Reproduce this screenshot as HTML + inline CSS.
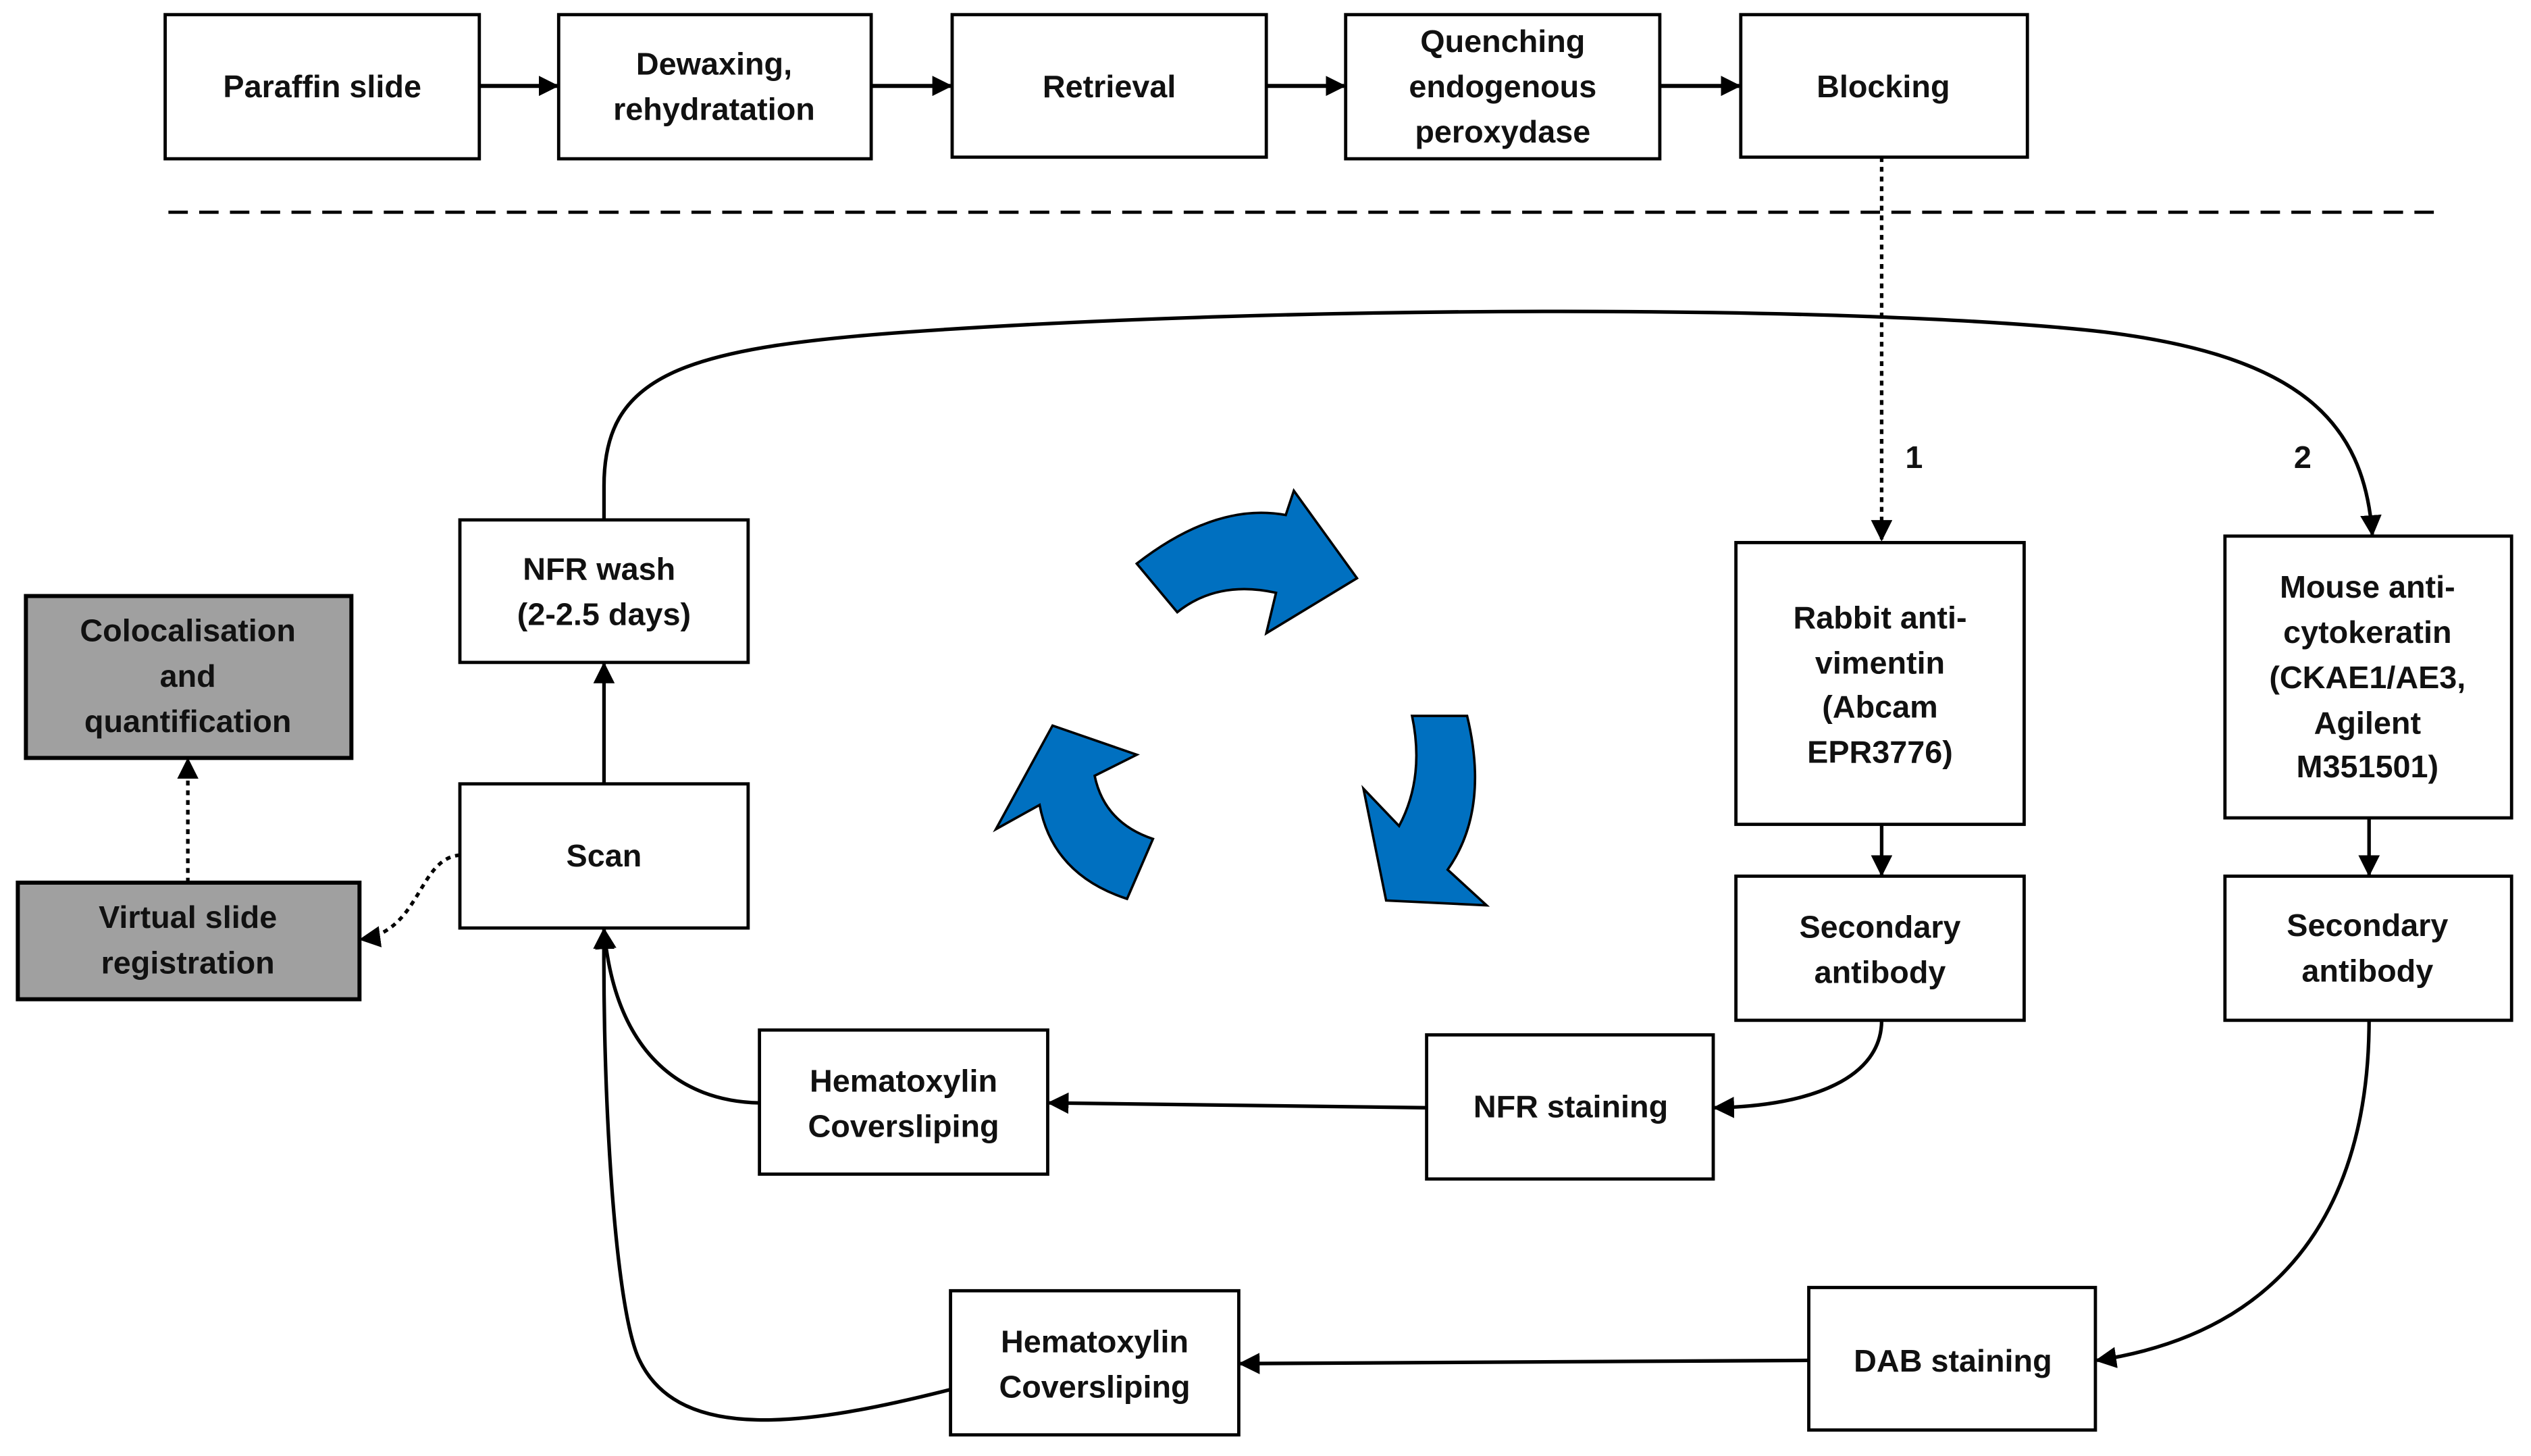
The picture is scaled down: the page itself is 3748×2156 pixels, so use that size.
<!DOCTYPE html>
<html><head><meta charset="utf-8"><style>
html,body{margin:0;padding:0;background:#fff;}
svg{display:block;}
text{font-family:"Liberation Sans",sans-serif;font-weight:bold;font-size:19.5px;fill:#111;text-anchor:middle;}
</style></head><body>
<svg width="3748" height="2156" viewBox="0 0 1563 899" xmlns="http://www.w3.org/2000/svg">
<defs>
<marker id="a" viewBox="0 0 10 10" refX="9" refY="5" markerWidth="5" markerHeight="5" orient="auto" markerUnits="strokeWidth"><path d="M0,0 L10,5 L0,10 z" fill="#000"/></marker>
<marker id="b" viewBox="0 0 10 10" refX="9" refY="5" markerWidth="6" markerHeight="6" orient="auto" markerUnits="strokeWidth"><path d="M0,0 L10,5 L0,10 z" fill="#000"/></marker>
</defs>
<g fill="#fff" stroke="#000" stroke-width="2">
<rect x="102" y="9" width="194" height="89"/>
<rect x="345" y="9" width="193" height="89"/>
<rect x="588" y="9" width="194" height="88"/>
<rect x="831" y="9" width="194" height="89"/>
<rect x="1075" y="9" width="177" height="88"/>
<rect x="1072" y="335" width="178" height="174"/>
<rect x="1374" y="331" width="177" height="174"/>
<rect x="1072" y="541" width="178" height="89"/>
<rect x="1374" y="541" width="177" height="89"/>
<rect x="881" y="639" width="177" height="89"/>
<rect x="469" y="636" width="178" height="89"/>
<rect x="587" y="797" width="178" height="89"/>
<rect x="1117" y="795" width="177" height="88"/>
<rect x="284" y="321" width="178" height="88"/>
<rect x="284" y="484" width="178" height="89"/>
<rect x="16" y="368" width="201" height="100" fill="#a0a0a0" stroke-width="2.5"/>
<rect x="11" y="545" width="211" height="72" fill="#a0a0a0" stroke-width="2.5"/>
</g>
<g stroke="#000" stroke-width="2.5" fill="none">
<line x1="296" y1="53" x2="344" y2="53" marker-end="url(#a)"/>
<line x1="538" y1="53" x2="587" y2="53" marker-end="url(#a)"/>
<line x1="782" y1="53" x2="830" y2="53" marker-end="url(#a)"/>
<line x1="1025" y1="53" x2="1074" y2="53" marker-end="url(#a)"/>
</g>
<line x1="104" y1="131" x2="1507" y2="131" stroke="#000" stroke-width="2" stroke-dasharray="12,7"/>
<g stroke="#000" stroke-width="2.2" fill="none">
<path d="M1162,97 L1162,333" stroke-dasharray="3,3" marker-end="url(#b)"/>
<path d="M373,321 L373,300 C373,232 420,215 560,205 C800,188 1150,188 1300,205 C1420,220 1460,260 1465,330" marker-end="url(#b)"/>
<line x1="1162" y1="509" x2="1162" y2="540" marker-end="url(#b)"/>
<line x1="1463" y1="505" x2="1463" y2="540" marker-end="url(#b)"/>
<path d="M1162,630 C1162,665 1120,683 1059,684" marker-end="url(#b)"/>
<line x1="881" y1="684" x2="648" y2="681" marker-end="url(#b)"/>
<path d="M469,681 C420,680 380,650 373,574" marker-end="url(#b)"/>
<path d="M1463,630 C1463,720 1430,820 1295,840" marker-end="url(#b)"/>
<line x1="1117" y1="840" x2="766" y2="842" marker-end="url(#b)"/>
<path d="M587,858 C500,880 420,892 395,840 C380,810 372,680 373,574" marker-end="url(#b)"/>
<line x1="373" y1="484" x2="373" y2="410" marker-end="url(#b)"/>
<path d="M284,528 C258,530 260,575 223,580" stroke-dasharray="3,3" marker-end="url(#b)"/>
<path d="M116,545 L116,469" stroke-dasharray="3,3" marker-end="url(#b)"/>
</g>
<g fill="#0070c0" stroke="#000" stroke-width="1.5" stroke-linejoin="miter">
<path d="M702,348 Q751,310 794,318 L799,303 L838,357 L782,391 L788,366 Q752,358 727,378 Z"/>
<path d="M872,442 L906,442 Q920,500 894,537 L918,559 L856,556 L842,487 L864,510 Q880,480 872,442 Z"/>
<path d="M650,448 L702,466 L676,479 Q682,508 712,518 L696,555 Q650,540 642,497 L615,512 Z"/>
</g>
<text x="199" y="60">Paraffin slide</text>
<text x="441" y="46">Dewaxing,</text><text x="441" y="74">rehydratation</text>
<text x="685" y="60">Retrieval</text>
<text x="928" y="32">Quenching</text><text x="928" y="60">endogenous</text><text x="928" y="88">peroxydase</text>
<text x="1163" y="60">Blocking</text>
<text x="1182" y="289">1</text>
<text x="1422" y="289">2</text>
<text x="1161" y="388">Rabbit anti-</text><text x="1161" y="416">vimentin</text><text x="1161" y="443">(Abcam</text><text x="1161" y="471">EPR3776)</text>
<text x="1462" y="369">Mouse anti-</text><text x="1462" y="397">cytokeratin</text><text x="1462" y="425">(CKAE1/AE3,</text><text x="1462" y="453">Agilent</text><text x="1462" y="480">M351501)</text>
<text x="1161" y="579">Secondary</text><text x="1161" y="607">antibody</text>
<text x="1462" y="578">Secondary</text><text x="1462" y="606">antibody</text>
<text x="970" y="690">NFR staining</text>
<text x="558" y="674">Hematoxylin</text><text x="558" y="702">Coversliping</text>
<text x="676" y="835">Hematoxylin</text><text x="676" y="863">Coversliping</text>
<text x="1206" y="847">DAB staining</text>
<text x="370" y="358">NFR wash</text><text x="373" y="386">(2-2.5 days)</text>
<text x="373" y="535">Scan</text>
<text x="116" y="396">Colocalisation</text><text x="116" y="424">and</text><text x="116" y="452">quantification</text>
<text x="116" y="573">Virtual slide</text><text x="116" y="601">registration</text>
</svg>
</body></html>
